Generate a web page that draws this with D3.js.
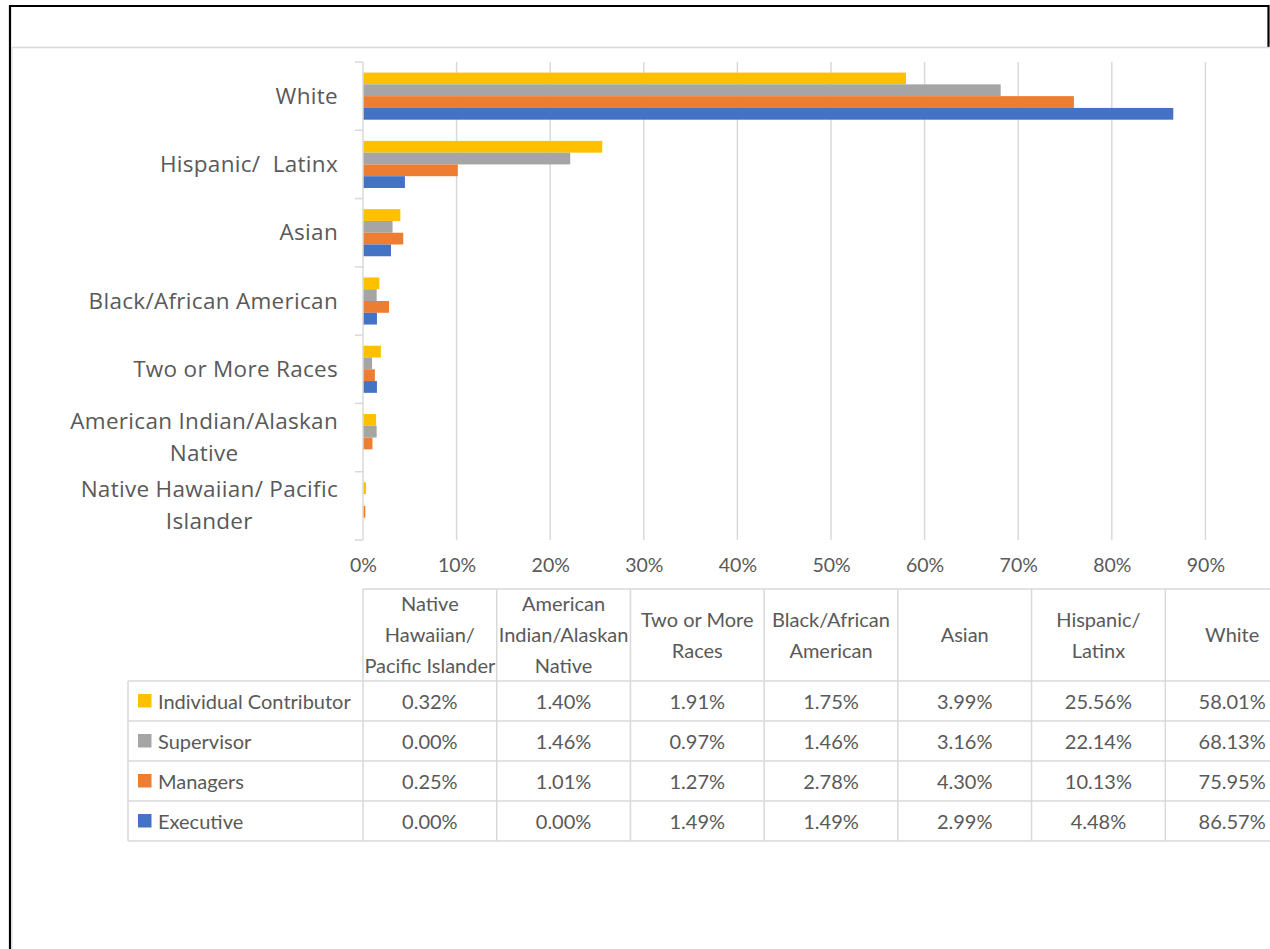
<!DOCTYPE html>
<html>
<head>
<meta charset="utf-8">
<script src="https://cdn.jsdelivr.net/npm/d3@7"></script>
<style>
  html, body { margin: 0; padding: 0; background: #fff; }
  svg { display: block; }
</style>
</head>
<body>
<svg id="chart" width="1270" height="949"></svg>
<script>
// ---- data ----
const tableCategories = ["Native Hawaiian/ Pacific Islander", "American Indian/Alaskan Native", "Two or More Races", "Black/African American", "Asian", "Hispanic/ Latinx", "White"];
const chartLabelLines = {
  "White": ["White"],
  "Hispanic/ Latinx": ["Hispanic/\u00a0 Latinx"],
  "Asian": ["Asian"],
  "Black/African American": ["Black/African American"],
  "Two or More Races": ["Two or More Races"],
  "American Indian/Alaskan Native": ["American Indian/Alaskan", "Native"],
  "Native Hawaiian/ Pacific Islander": ["Native Hawaiian/ Pacific", "Islander"]
};
const headerLines = {
  "Native Hawaiian/ Pacific Islander": ["Native", "Hawaiian/", "Pacific Islander"],
  "American Indian/Alaskan Native": ["American", "Indian/Alaskan", "Native"],
  "Two or More Races": ["Two or More", "Races"],
  "Black/African American": ["Black/African", "American"],
  "Asian": ["Asian"],
  "Hispanic/ Latinx": ["Hispanic/", "Latinx"],
  "White": ["White"]
};
const seriesNames = ["Individual Contributor", "Supervisor", "Managers", "Executive"];
const seriesColors = ["#FFC000", "#A5A5A5", "#ED7D31", "#4472C4"];
const individualContributor = [0.32, 1.40, 1.91, 1.75, 3.99, 25.56, 58.01];
const supervisor = [0.00, 1.46, 0.97, 1.46, 3.16, 22.14, 68.13];
const managers = [0.25, 1.01, 1.27, 2.78, 4.30, 10.13, 75.95];
const executive = [0.00, 0.00, 1.49, 1.49, 2.99, 4.48, 86.57];
const seriesValues = [individualContributor, supervisor, managers, executive];
const xTicks = [0, 0.1, 0.2, 0.3, 0.4, 0.5, 0.6, 0.7, 0.8, 0.9];

// ---- layout ----
const svg = d3.select("#chart");
const grid = "#d9d9d9";
const textCol = "#595959";
const plotLeft = 363, plotRight = 1299, plotTop = 62, plotBottom = 540;

const chartCategories = tableCategories.slice().reverse();
const x = d3.scaleLinear().domain([0, 1]).range([plotLeft, plotRight]);
const y0 = d3.scaleBand().domain(chartCategories).range([plotTop, plotBottom]).padding(0);
const y1 = d3.scaleBand().domain(seriesNames).range([0, y0.bandwidth()]).paddingInner(0).paddingOuter(0.9);
const color = d3.scaleOrdinal().domain(seriesNames).range(seriesColors);

// frame
svg.append("line").attr("x1", 10).attr("x2", 1269).attr("y1", 6).attr("y2", 6).attr("stroke", "#000").attr("stroke-width", 2.2);
svg.append("line").attr("x1", 10).attr("x2", 10).attr("y1", 5).attr("y2", 949).attr("stroke", "#000").attr("stroke-width", 2.2);
svg.append("line").attr("x1", 1268.5).attr("x2", 1268.5).attr("y1", 5).attr("y2", 47).attr("stroke", "#000").attr("stroke-width", 2.2);
svg.append("line").attr("x1", 11).attr("x2", 1270).attr("y1", 47.5).attr("y2", 47.5).attr("stroke", grid).attr("stroke-width", 1.5);
svg.append("line").attr("x1", 12).attr("x2", 12).attr("y1", 47).attr("y2", 949).attr("stroke", grid).attr("stroke-width", 1);

// gridlines
svg.append("g").selectAll("line").data(xTicks.slice(1)).join("line")
  .attr("x1", d => x(d)).attr("x2", d => x(d))
  .attr("y1", plotTop).attr("y2", plotBottom)
  .attr("stroke", grid).attr("stroke-width", 1.5);

// x axis labels
const xAxis = d3.axisBottom(x).tickValues(xTicks).tickFormat(d3.format(".0%")).tickSize(0).tickPadding(0);
const gx = svg.append("g").attr("transform", `translate(0,${plotBottom})`).call(xAxis);
gx.select(".domain").remove();
gx.selectAll("text").attr("y", 32).attr("dy", 0)
  .attr("font-family", "Lato, 'Liberation Sans', sans-serif").attr("font-size", 19.5).attr("fill", textCol);

// bars
const groups = svg.append("g").selectAll("g").data(chartCategories).join("g")
  .attr("transform", d => `translate(0,${y0(d)})`);
groups.selectAll("rect").data(cat => {
  const i = tableCategories.indexOf(cat);
  return seriesNames.map((s, k) => ({ s, v: seriesValues[k][i] / 100 }));
}).join("rect")
  .attr("x", x(0))
  .attr("y", d => y1(d.s))
  .attr("width", d => x(d.v) - x(0))
  .attr("height", y1.bandwidth())
  .attr("fill", d => color(d.s));

// category axis line + ticks
svg.append("line").attr("x1", plotLeft).attr("x2", plotLeft).attr("y1", plotTop).attr("y2", plotBottom)
  .attr("stroke", grid).attr("stroke-width", 1.5);
const bounds = chartCategories.map(c => y0(c)).concat([plotBottom]);
svg.append("g").selectAll("line").data(bounds).join("line")
  .attr("x1", plotLeft - 8).attr("x2", plotLeft).attr("y1", d => d).attr("y2", d => d)
  .attr("stroke", grid).attr("stroke-width", 1.5);

// category labels
const catLabels = svg.append("g").selectAll("text").data(chartCategories).join("text")
  .attr("text-anchor", "end")
  .attr("font-family", "'Open Sans', sans-serif").attr("font-size", 22.5).attr("letter-spacing", 0.3).attr("fill", textCol);
catLabels.each(function(c) {
  const lines = chartLabelLines[c];
  const cy = y0(c) + y0.bandwidth() / 2;
  d3.select(this).selectAll("tspan").data(lines).join("tspan")
    .attr("x", 338)
    .attr("y", (l, i) => cy + 7.5 + (i - (lines.length - 1) / 2) * 32)
    .attr("text-anchor", (l, i) => (lines.length > 1 && i === lines.length - 1) ? "middle" : "end")
    .text(l => l);
});
// center second line of wrapped labels under first line
catLabels.each(function(c) {
  const lines = chartLabelLines[c];
  if (lines.length > 1) {
    const t = d3.select(this).selectAll("tspan");
    const first = t.nodes()[0];
    const w = first.getComputedTextLength();
    t.filter((l, i) => i === lines.length - 1).attr("x", 338 - w / 2);
  }
});

// ---- data table ----
const colX = d3.scaleBand().domain(tableCategories).range([plotLeft, plotRight]);
const headerTop = 589, headerBottom = 681, rowH = 40;
const legendLeft = 128;
const rowY = d3.scaleBand().domain(seriesNames).range([headerBottom, headerBottom + rowH * seriesNames.length]);
const tableBottom = headerBottom + rowH * seriesNames.length;
const tfont = "Lato, 'Liberation Sans', sans-serif";
const tsize = 20;

const tg = svg.append("g");
// horizontal lines
tg.append("line").attr("x1", plotLeft).attr("x2", plotRight).attr("y1", headerTop).attr("y2", headerTop).attr("stroke", grid).attr("stroke-width", 1.5);
tg.selectAll(".hl").data(seriesNames.map(s => rowY(s)).concat([tableBottom])).join("line")
  .attr("x1", legendLeft).attr("x2", plotRight).attr("y1", d => d).attr("y2", d => d)
  .attr("stroke", grid).attr("stroke-width", 1.5);
// vertical lines
tg.append("line").attr("x1", legendLeft).attr("x2", legendLeft).attr("y1", headerBottom).attr("y2", tableBottom).attr("stroke", grid).attr("stroke-width", 1.5);
tg.selectAll(".vl").data(tableCategories.map(c => colX(c)).concat([plotRight])).join("line")
  .attr("x1", d => d).attr("x2", d => d).attr("y1", headerTop).attr("y2", tableBottom)
  .attr("stroke", grid).attr("stroke-width", 1.5);

// header text
const hc = (headerTop + headerBottom) / 2;
tg.selectAll(".hdr").data(tableCategories).join("text")
  .attr("text-anchor", "middle").attr("font-family", tfont).attr("font-size", tsize).attr("fill", textCol)
  .each(function(c) {
    const lines = headerLines[c];
    d3.select(this).selectAll("tspan").data(lines).join("tspan")
      .attr("x", colX(c) + colX.bandwidth() / 2)
      .attr("y", (l, i) => hc + 7 + (i - (lines.length - 1) / 2) * 31)
      .text(l => l);
  });

// rows
seriesNames.forEach((s, k) => {
  const cy = rowY(s) + rowH / 2;
  tg.append("rect").attr("x", 138).attr("y", cy - 7).attr("width", 13.5).attr("height", 13.5).attr("fill", color(s));
  tg.append("text").attr("x", 158).attr("y", cy + 7.5)
    .attr("font-family", tfont).attr("font-size", tsize).attr("fill", textCol).text(s);
  tableCategories.forEach((c, i) => {
    tg.append("text").attr("x", colX(c) + colX.bandwidth() / 2).attr("y", cy + 7.5)
      .attr("text-anchor", "middle").attr("font-family", tfont).attr("font-size", tsize).attr("fill", textCol)
      .text(seriesValues[k][i].toFixed(2) + "%");
  });
});
</script>
</body>
</html>
